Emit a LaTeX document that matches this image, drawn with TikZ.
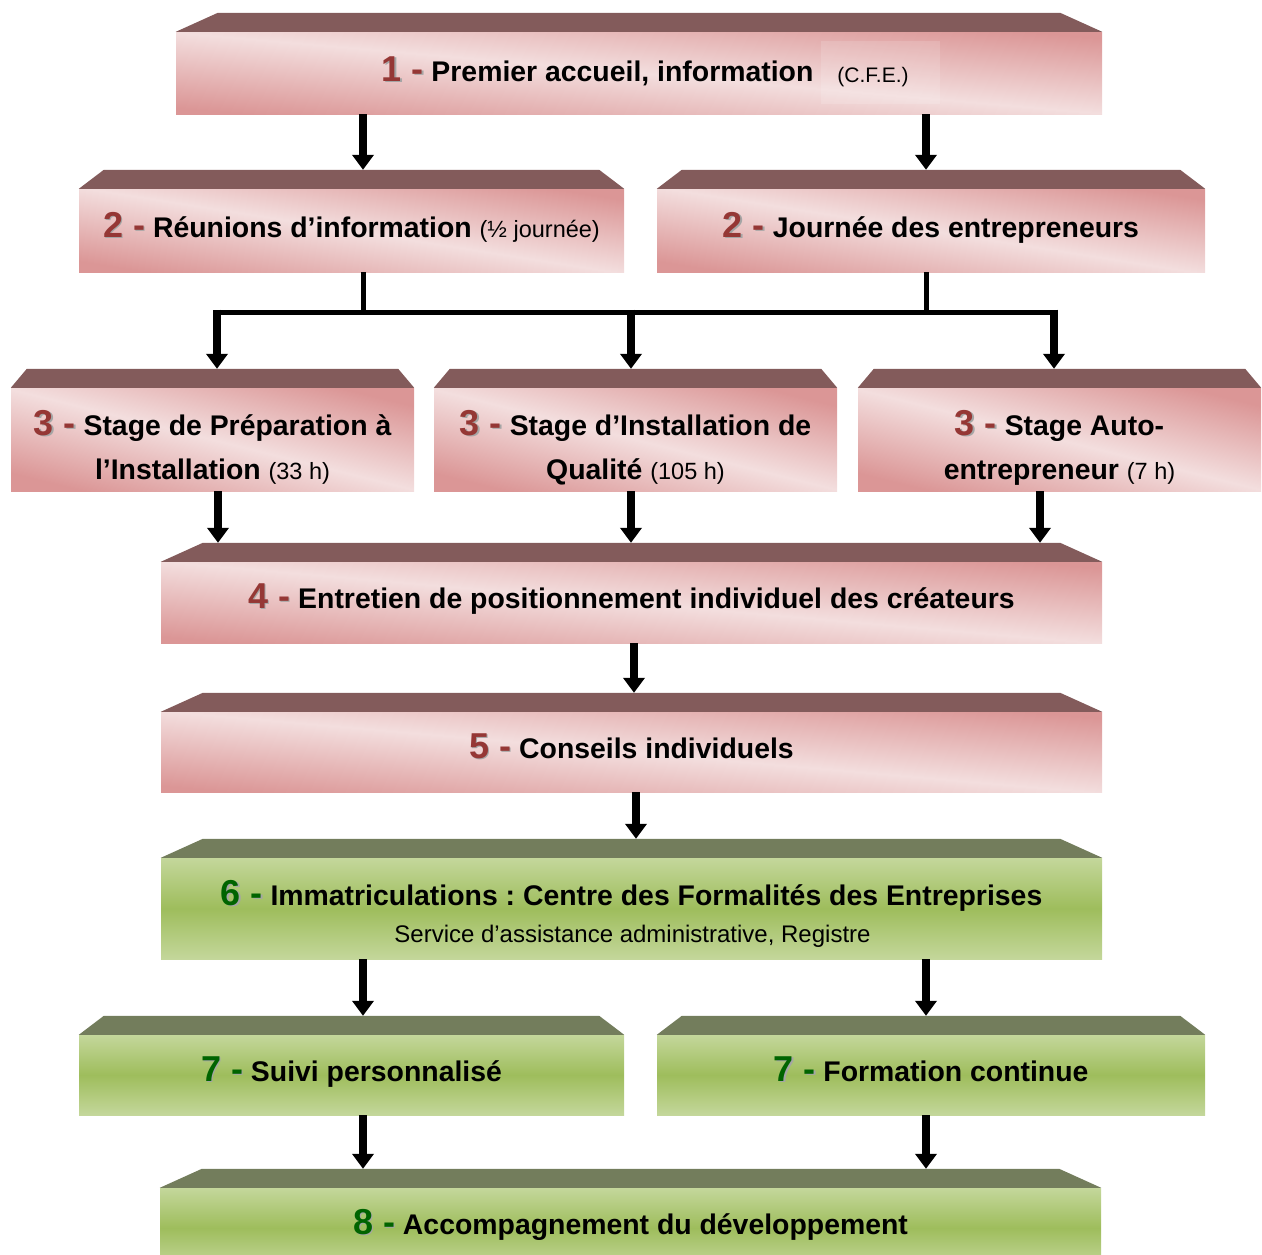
\documentclass[tikz,border=0pt]{standalone}
\usepackage{fontspec}
\setmainfont{Liberation Sans}
\usetikzlibrary{arrows.meta,calc}
\frenchspacing
\definecolor{bevR}{RGB}{131,91,91}
\definecolor{bevG}{RGB}{115,125,92}
\definecolor{pinkL}{RGB}{243,222,222}
\definecolor{pinkD}{RGB}{219,150,150}
\definecolor{greenL}{RGB}{196,215,155}
\definecolor{greenD}{RGB}{158,189,92}
\definecolor{numR}{RGB}{149,55,53}
\definecolor{numG}{RGB}{0,100,0}
\definecolor{shad}{RGB}{165,165,165}
\newcommand\numred[1]{\rlap{\hspace{1.6pt}\raisebox{-1.6pt}{\color{shad}#1}}{\color{numR}#1}}
\newcommand\numgrn[1]{\rlap{\hspace{1.6pt}\raisebox{-1.6pt}{\color{shad}#1}}{\color{numG}#1}}
\newcommand\numsz{\fontsize{36}{36}\selectfont}
\newcommand\smallpar[1]{{\mdseries\fontsize{23.5}{23.5}\selectfont #1}}
\newcommand\lead[2]{{\numsz#1{#2} #1{-}} }
\newcommand\bevel[3]{%
  \fill[#3] (#1.north west) -- ++(#2,-19) -- ($(#1.north east)+(-#2,-19)$) -- (#1.north east) -- cycle;
  \coordinate (#1-top) at ($(#1.north)+(0,-19)$);}
\tikzset{
  x=1pt, y=-1pt,
  redbox/.style={rectangle, inner sep=0pt, top color=pinkD, bottom color=pinkD, middle color=pinkL},
  greenbox/.style={rectangle, inner sep=0pt, top color=greenL, bottom color=greenL, middle color=greenD},
  txt/.style={anchor=base, inner sep=0pt, align=center, font=\fontsize{28.4}{44}\selectfont\bfseries},
  arr/.style={line width=8pt, -{Triangle[width=21pt,length=15pt]}},
  link/.style={line width=5pt},
}
\begin{document}
\begin{tikzpicture}
\useasboundingbox (0,0) rectangle (1262,1254);
% boxes
\node[redbox, shading angle=-5, minimum width=926pt, minimum height=82pt] (b1) at (639,73) {};
\node[redbox, shading angle=-9, minimum width=545pt, minimum height=83pt] (b2a) at (351.5,230.5) {};
\node[redbox, shading angle=-9, minimum width=548pt, minimum height=83pt] (b2b) at (931,230.5) {};
\node[redbox, shading angle=-14, minimum width=403pt, minimum height=103pt] (b3a) at (212.5,439.5) {};
\node[redbox, shading angle=-14, minimum width=403pt, minimum height=103pt] (b3b) at (635.5,439.5) {};
\node[redbox, shading angle=-14, minimum width=403pt, minimum height=103pt] (b3c) at (1059.5,439.5) {};
\node[redbox, shading angle=-5, minimum width=941pt, minimum height=81pt] (b4) at (631.5,602.5) {};
\node[redbox, shading angle=-5, minimum width=941pt, minimum height=80pt] (b5) at (631.5,752) {};
\node[greenbox, minimum width=941pt, minimum height=101pt] (b6) at (631.5,908.5) {};
\node[greenbox, minimum width=545pt, minimum height=80pt] (b7a) at (351.5,1075) {};
\node[greenbox, minimum width=548pt, minimum height=80pt] (b7b) at (931,1075) {};
\node[greenbox, minimum width=941pt, minimum height=80pt] (b8) at (630.5,1228) {};
\bevel{b1}{42}{bevR}
\bevel{b2a}{25}{bevR}
\bevel{b2b}{25}{bevR}
\bevel{b3a}{16}{bevR}
\bevel{b3b}{16}{bevR}
\bevel{b3c}{16}{bevR}
\bevel{b4}{42}{bevR}
\bevel{b5}{42}{bevR}
\bevel{b6}{42}{bevG}
\bevel{b7a}{25}{bevG}
\bevel{b7b}{25}{bevG}
\bevel{b8}{42}{bevG}
% texts
\node[txt] (t1) at (597.5,81) {\lead\numred{1}Premier accueil, information};
\node[inner sep=0pt, minimum width=119pt, minimum height=63pt, fill=white, fill opacity=0.14, text opacity=1,
      font=\fontsize{21}{21}\selectfont] (cfe) at (880.5,72.5) {\hspace*{-15pt}\raisebox{-10pt}[0pt][0pt]{(C.F.E.)}};
\node[txt] (t2a) at (351.5,237) {\lead\numred{2}Réunions d’information \smallpar{(½ journée)}};
\node[txt] (t2b) at (931,237) {\lead\numred{2}Journée des entrepreneurs};
\node[txt] (t3a) at (212.5,479) {\lead\numred{3}Stage de Préparation à\\l’Installation \smallpar{(33 h)}};
\node[txt] (t3b) at (635.5,479) {\lead\numred{3}Stage d’Installation de\\Qualité \smallpar{(105 h)}};
\node[txt] (t3c) at (1059.5,479) {\lead\numred{3}Stage Auto-\\entrepreneur \smallpar{(7 h)}};
\node[txt] (t4) at (631.5,608) {\lead\numred{4}Entretien de positionnement individuel des créateurs};
\node[txt] (t5) at (631.5,758) {\lead\numred{5}Conseils individuels};
\node[txt] (t6) at (631.5,905) {\lead\numgrn{6}Immatriculations : Centre des Formalités des Entreprises};
\node[anchor=base, inner sep=0pt, font=\fontsize{24}{24}\selectfont] (t6b) at (632.5,942) {Service d’assistance administrative, Registre};
\node[txt] (t7a) at (351.5,1081) {\lead\numgrn{7}Suivi personnalisé};
\node[txt] (t7b) at (931,1081) {\lead\numgrn{7}Formation continue};
\node[txt] (t8) at (630.5,1234) {\lead\numgrn{8}Accompagnement du développement};
% column coordinates
\coordinate (cL) at (363,0);
\coordinate (cR) at (926,0);
\coordinate (jA) at (217,312);
\coordinate (jB) at (631,312);
\coordinate (jC) at (1054,312);
\coordinate (dA) at (218,0);
\coordinate (dB) at (631,0);
\coordinate (dC) at (1040,0);
\coordinate (c45) at (634,0);
\coordinate (c56) at (636,0);
% connectors
\draw[arr] (b1.south -| cL) -- (b2a-top -| cL);
\draw[arr] (b1.south -| cR) -- (b2b-top -| cR);
\draw[link] (b2a.south -| cL) -- (jA -| cL);
\draw[link] (b2b.south -| cR) -- (jA -| cR);
\draw[link, line cap=rect] (jA) -- (jC);
\draw[arr] ([yshift=2.5pt]jA) -- (b3a-top -| jA);
\draw[arr] ([yshift=2.5pt]jB) -- (b3b-top -| jB);
\draw[arr] ([yshift=2.5pt]jC) -- (b3c-top -| jC);
\draw[arr] (b3a.south -| dA) -- (b4-top -| dA);
\draw[arr] (b3b.south -| dB) -- (b4-top -| dB);
\draw[arr] (b3c.south -| dC) -- (b4-top -| dC);
\draw[arr] (b4.south -| c45) -- (b5-top -| c45);
\draw[arr] (b5.south -| c56) -- (b6-top -| c56);
\draw[arr] (b6.south -| cL) -- (b7a-top -| cL);
\draw[arr] (b6.south -| cR) -- (b7b-top -| cR);
\draw[arr] (b7a.south -| cL) -- (b8-top -| cL);
\draw[arr] (b7b.south -| cR) -- (b8-top -| cR);
\end{tikzpicture}
\end{document}
